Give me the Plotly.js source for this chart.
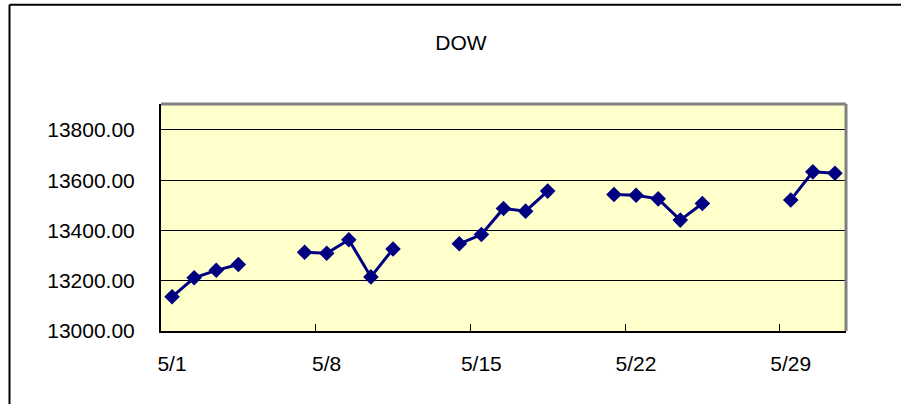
<!DOCTYPE html>
<html>
<head>
<meta charset="utf-8">
<script src="https://cdn.plot.ly/plotly-3.0.1.min.js"></script>
<style>html,body{margin:0;padding:0;background:#fff;}#chart{width:901px;height:404px;}</style>
</head>
<body>
<div id="chart"></div>
<script>
// Trading days of May (day of month) and DOW closing values
var tradingDays = [1, 2, 3, 4, 7, 8, 9, 10, 11, 14, 15, 16, 17, 18, 21, 22, 23, 24, 25, 29, 30, 31];
var dowClose = [13136.14, 13211.88, 13241.38, 13264.62, 13312.97, 13309.07, 13362.87, 13215.13, 13326.22,
                13346.78, 13383.84, 13487.53, 13476.72, 13556.53, 13542.88, 13539.95, 13525.65, 13441.13,
                13507.28, 13521.34, 13633.08, 13627.64];
var tickDays = [1, 8, 15, 22, 29];
var tickLabels = ['5/1', '5/8', '5/15', '5/22', '5/29'];

// Build series: each day drawn at middle of its day slot; break line across non-trading days
var xs = [], ys = [];
for (var i = 0; i < tradingDays.length; i++) {
  if (i > 0 && tradingDays[i] - tradingDays[i - 1] > 1) { xs.push(tradingDays[i] - 1); ys.push(null); }
  xs.push(tradingDays[i] - 0.5);
  ys.push(dowClose[i]);
}
var tickPos = tickDays.map(function (d) { return d - 1; });

var font = {family: 'Liberation Sans, Arial, sans-serif', size: 21, color: '#000'};

var trace = {
  x: xs, y: ys, type: 'scatter', mode: 'lines+markers', connectgaps: false,
  line: {color: '#000080', width: 3},
  marker: {symbol: 'diamond', size: 12, color: '#000080'},
  hoverinfo: 'skip'
};

var layout = {
  width: 901, height: 404,
  margin: {l: 161, r: 55, t: 104, b: 73, pad: 0},
  paper_bgcolor: '#ffffff',
  plot_bgcolor: '#ffffcc',
  showlegend: false,
  font: font,
  title: {text: 'DOW', font: font, x: 461 / 901, xref: 'container', xanchor: 'center',
          y: 1 - 43 / 404, yref: 'container', yanchor: 'middle'},
  xaxis: {
    range: [0, 31], tickmode: 'array', tickvals: tickPos, ticktext: tickLabels,
    showgrid: false, zeroline: false, showline: true, linecolor: '#000', linewidth: 2,
    ticks: 'inside', ticklen: 7, tickcolor: '#000', tickwidth: 1,
    tickfont: font, ticklabelstandoff: 13, ticklabelshift: 11
  },
  yaxis: {
    range: [13000, 13903], tickmode: 'array', tickvals: [13000, 13200, 13400, 13600, 13800],
    tickformat: '.2f', showgrid: true, gridcolor: '#000', gridwidth: 1,
    zeroline: false, showline: true, linecolor: '#000', linewidth: 2,
    ticks: 'inside', ticklen: 6, tickcolor: '#000', tickwidth: 1,
    tickfont: font, ticklabelstandoff: 20
  },
  shapes: [
    // gray plot-area border top and right
    {type: 'line', xref: 'paper', yref: 'paper', x0: 0, x1: 1, y0: 1, y1: 1, line: {color: '#808080', width: 3}},
    {type: 'line', xref: 'paper', yref: 'paper', x0: 1, x1: 1, y0: 0, y1: 1, line: {color: '#808080', width: 3}},
    // outer chart border (left & top)
    {type: 'line', xref: 'paper', yref: 'paper', x0: (9.5 - 161) / 685, x1: (9.5 - 161) / 685,
     y0: (331 - 4.8) / 227, y1: -0.5, line: {color: '#000', width: 2}},
    {type: 'line', xref: 'paper', yref: 'paper', x0: (9.5 - 161) / 685, x1: 1.3,
     y0: (331 - 4.8) / 227, y1: (331 - 4.8) / 227, line: {color: '#000', width: 2}}
  ]
};

Plotly.newPlot('chart', [trace], layout, {staticPlot: true, displayModeBar: false});
</script>
</body>
</html>
